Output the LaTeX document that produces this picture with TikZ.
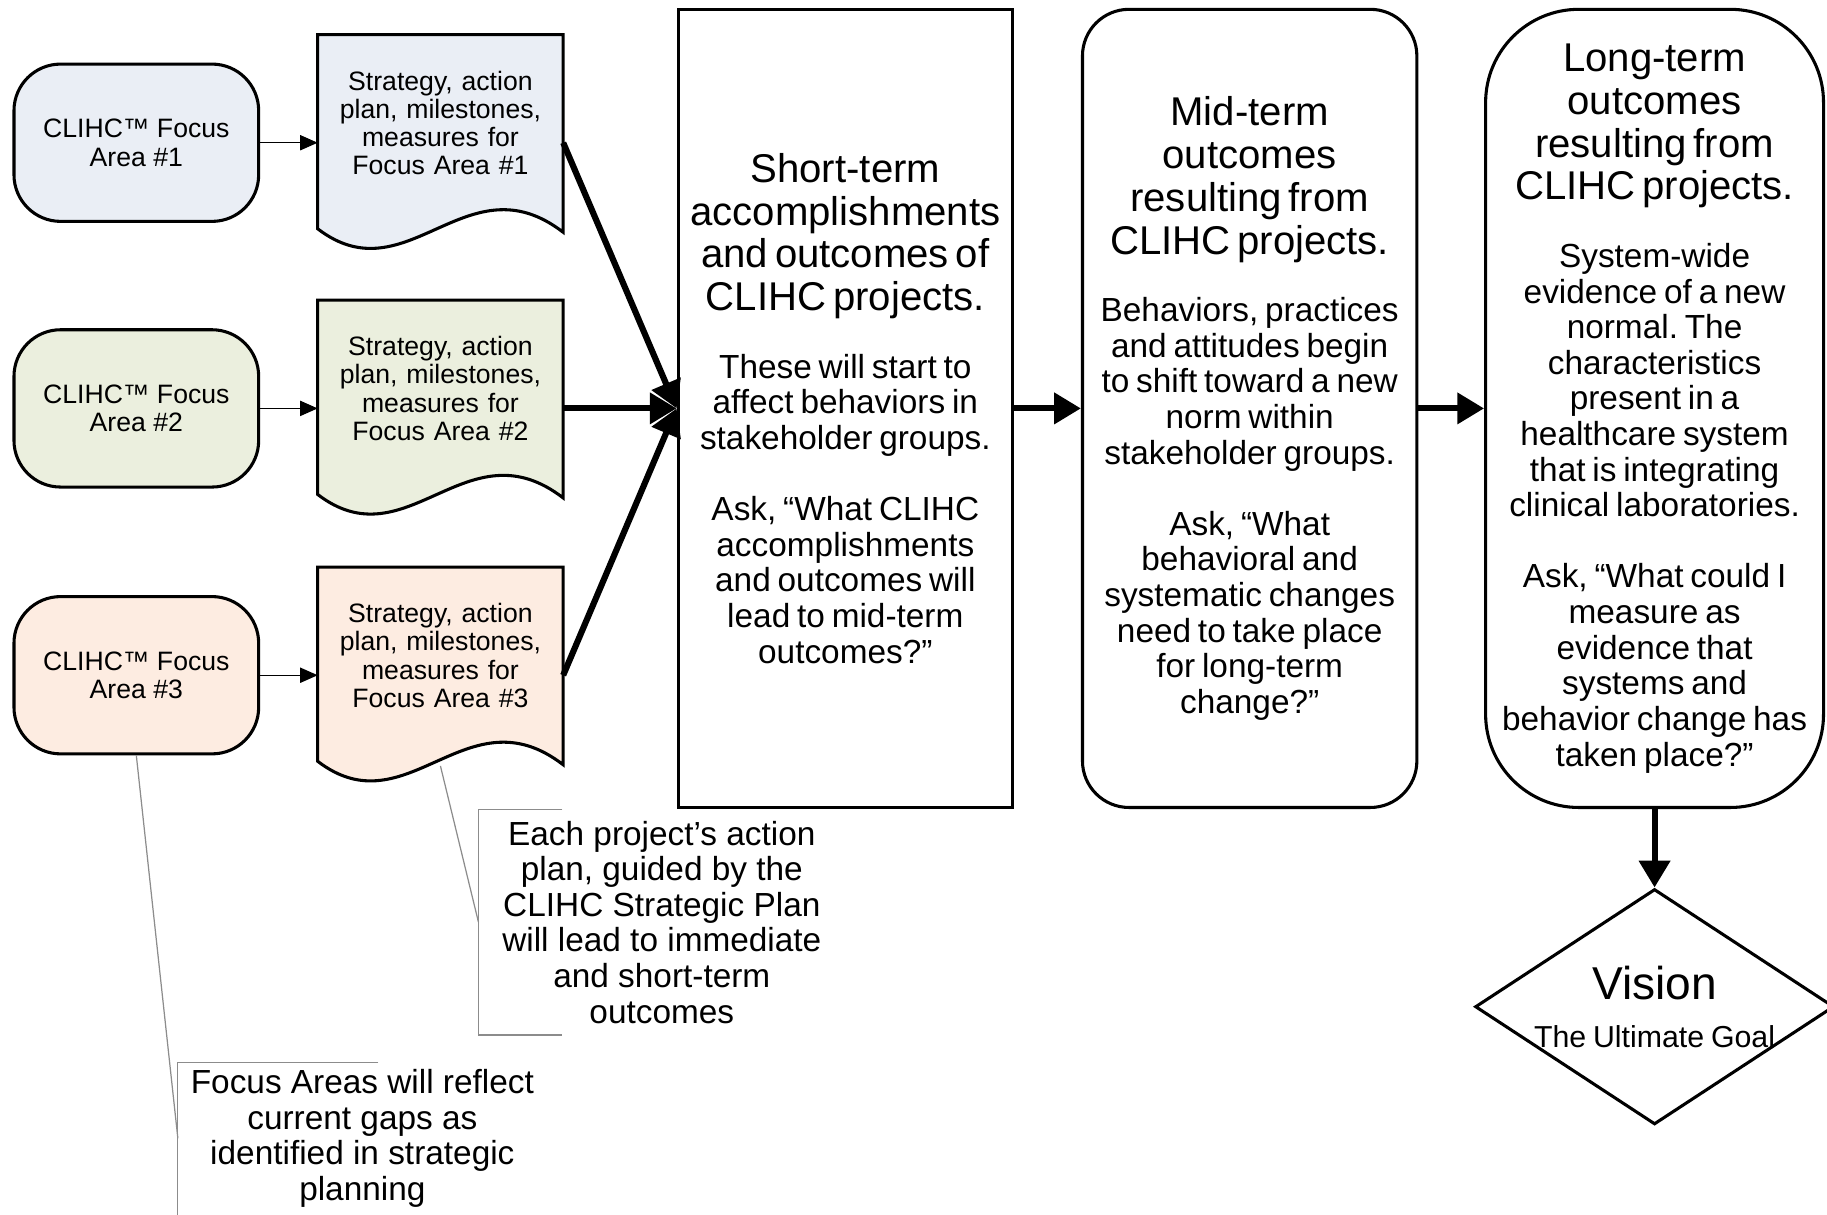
\documentclass[tikz,border=0pt]{standalone}
\usepackage{fontspec}
\setmainfont{Liberation Sans}
\usetikzlibrary{shapes.geometric}
\usetikzlibrary{arrows.meta}
\usetikzlibrary{backgrounds}

\definecolor{areaone}{HTML}{EAEEF5}
\definecolor{areatwo}{HTML}{EBEFDE}
\definecolor{areathree}{HTML}{FDECE1}
\definecolor{notegray}{HTML}{8C8C8C}

\newcommand{\headtext}{\fontsize{19.6}{20.9}\selectfont}
\newcommand{\bodytext}{\fontsize{16.3}{17.4}\selectfont}
\newcommand{\smalltext}{\fontsize{13}{13.8}\selectfont}
\frenchspacing

\begin{document}
\begin{tikzpicture}[x=2cm,y=-2cm]
			\tikzset{focus/.style = {shape=rectangle,draw,line width=1.5pt,
					rounded corners=0.8cm,minimum width=4.2cm,minimum height=2.7cm,
					inner sep=0pt,align=center,font=\smalltext}}
			\tikzset{doc/.style = {shape=rectangle,minimum width=4.2cm,
					minimum height=3.7cm,inner sep=0pt,text width=4cm,align=center,
					font=\smalltext,execute at end node={\par\vspace*{0.68cm}}}}
			\tikzset{outcome/.style = {shape=rectangle,draw,line width=1.5pt,
					minimum width=5.74cm,minimum height=13.7cm,inner sep=0.07cm,
					text width=5.6cm,align=center}}
			\tikzset{goal/.style = {shape=diamond,draw,line width=1.5pt,
					minimum width=6.16cm,minimum height=4.04cm,inner sep=0pt}}
			\tikzset{note/.style = {shape=rectangle,inner sep=0pt,align=center,
					font=\bodytext}}
			\tikzset{feed/.style = {-{Triangle[length=0.3cm,width=0.26cm]},line width=0.6pt}}
			\tikzset{flow/.style = {-{Triangle[length=0.46cm,width=0.52cm]},line width=3pt}}
			\tikzset{noteline/.style = {draw=notegray,line width=0.6pt}}

		\useasboundingbox (0,0) rectangle (15.68,10.42);

		% focus areas
		\node[focus,fill=areaone] (f1) at (1.17,1.225) {CLIHC™ Focus\\Area \#1};
		\node[focus,fill=areatwo] (f2) at (1.17,3.505) {CLIHC™ Focus\\Area \#2};
		\node[focus,fill=areathree] (f3) at (1.17,5.795) {CLIHC™ Focus\\Area \#3};

		% strategy sheets
		\node[doc] (s1) at (3.78,1.225) {Strategy, action\\plan, milestones,\\measures for\\Focus Area \#1};
		\node[doc] (s2) at (3.78,3.505) {Strategy, action\\plan, milestones,\\measures for\\Focus Area \#2};
		\node[doc] (s3) at (3.78,5.795) {Strategy, action\\plan, milestones,\\measures for\\Focus Area \#3};
		\begin{scope}[on background layer]
		\foreach \sh/\col in {s1/areaone,s2/areatwo,s3/areathree}
			\draw[line width=1.5pt,fill=\col] (\sh.north west) -- (\sh.north east)
				-- ([yshift=0.32cm]\sh.south east)
				.. controls ([xshift=-1.66cm,yshift=1.6cm]\sh.south east)
				and ([xshift=1.54cm,yshift=-0.8cm]\sh.south west)
				.. ([yshift=0.38cm]\sh.south west) -- cycle;
		\end{scope}

		% outcomes
		\node[outcome] (st) at (7.255,3.505) {{\headtext Short-term\\accomplishments\\and outcomes of\\CLIHC projects.\par}\vspace{15.6pt}%
			{\bodytext These will start to\\affect behaviors in\\stakeholder groups.\par}\vspace{17.3pt}%
			{\bodytext Ask, “What CLIHC\\accomplishments\\and outcomes will\\lead to mid-term\\outcomes?”\par}};
		\node[outcome,rounded corners=0.8cm] (mt) at (10.725,3.505) {{\headtext Mid-term\\outcomes\\resulting from\\CLIHC projects.\par}\vspace{15.6pt}%
			{\bodytext Behaviors, practices\\and attitudes begin\\to shift toward a new\\norm within\\stakeholder groups.\par}\vspace{17.3pt}%
			{\bodytext Ask, “What\\behavioral and\\systematic changes\\need to take place\\for long-term\\change?”\par}};
		\node[outcome,rounded corners=1.6cm,minimum width=5.8cm,text width=5.66cm] (lt) at (14.2,3.505) {{\headtext Long-term\\outcomes\\resulting from\\CLIHC projects.\par}\vspace{15.6pt}%
			{\bodytext System-wide\\evidence of a new\\normal. The\\characteristics\\present in a\\healthcare system\\that is integrating\\clinical laboratories.\par}\vspace{17.3pt}%
			{\bodytext Ask, “What could I\\measure as\\evidence that\\systems and\\behavior change has\\taken place?”\par}};

		% vision
		\node[goal] (vis) at (14.2,8.64) {};
		\node[text width=5cm,align=center,inner sep=0pt] (vistext) at (vis.center) {{\fontsize{22.5}{27}\selectfont Vision\par}%
			{\fontsize{14.8}{23.3}\selectfont The Ultimate Goal\par}};

		% notes
		\node[note,minimum width=6.28cm,minimum height=3.86cm] (c1) at (5.68,7.915) {Each project’s action\\plan, guided by the\\CLIHC Strategic Plan\\will lead to immediate\\and short-term\\outcomes};
		\node[note,minimum width=6.32cm,minimum height=2.6cm] (c2) at (3.11,9.77) {Focus Areas will reflect\\current gaps as\\identified in strategic\\planning};

		%edges
		\draw[feed] (f1) -- (s1);
		\draw[feed] (f2) -- (s2);
		\draw[feed] (f3) -- (s3);
		\draw[flow] (s1.east) -- (st.west);
		\draw[flow] (s2) -- (st);
		\draw[flow] (s3.east) -- (st.west);
		\draw[flow] (st) -- (mt);
		\draw[flow] (mt) -- (lt);
		\draw[flow] (lt) -- (vis);

		\draw[noteline] ([yshift=0.3cm]s3.south) -- (c1.west);
		\draw[noteline] ([xshift=1.44cm]c1.north west) -- (c1.north west) -- (c1.south west) -- ([xshift=1.44cm]c1.south west);
		\draw[noteline] (f3.south) -- (c2.west);
		\draw[noteline] ([xshift=3.44cm]c2.north west) -- (c2.north west) -- (c2.south west);

\end{tikzpicture}
\end{document}
